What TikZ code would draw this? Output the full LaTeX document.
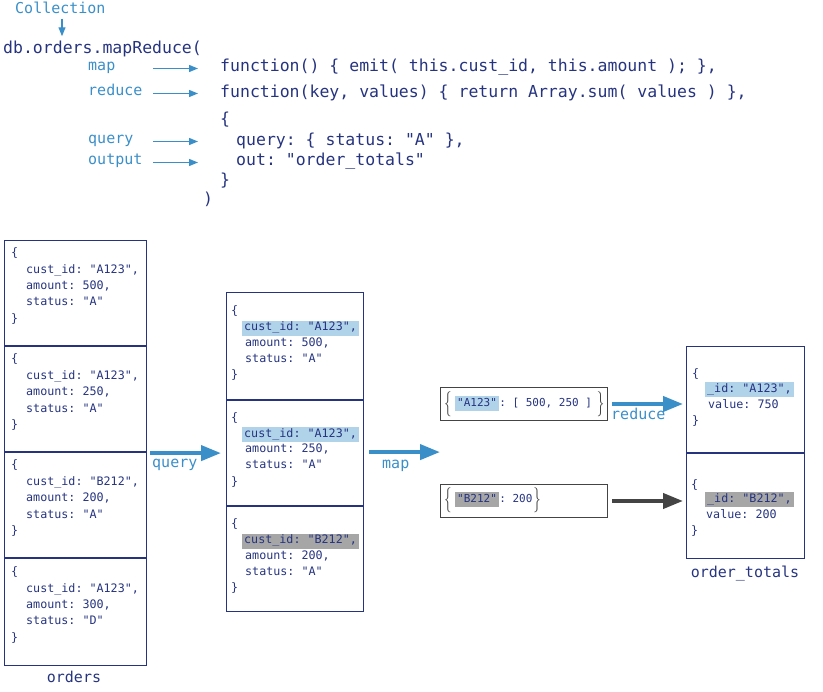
\documentclass[tikz,border=0pt]{standalone}
\usepackage{fontspec}
\setmonofont{DejaVu Sans Mono}
\newfontfamily\bracefont{lmroman10-regular}[Extension=.otf, FakeStretch=0.6]
\usetikzlibrary{arrows.meta}
\definecolor{navy}{RGB}{38,52,128}
\definecolor{lblue}{RGB}{59,143,201}
\definecolor{hlblue}{RGB}{176,211,234}
\definecolor{hlgray}{RGB}{166,166,166}
\definecolor{dgray}{RGB}{68,68,68}
\begin{document}
\begin{tikzpicture}[x=1pt,y=-1pt,
  code/.style={anchor=base west, inner sep=0, text=navy, font=\ttfamily\fontsize{16.5}{18}\selectfont},
  lbl/.style={anchor=base west, inner sep=0, text=lblue, font=\ttfamily\fontsize{15}{17}\selectfont, text height=0.75em, text depth=0.25em},
  small/.style={anchor=west, inner sep=0, text=navy, font=\ttfamily\fontsize{11.7}{13}\selectfont, text height=0.75em, text depth=0.25em},
  hl/.style={small, fill=hlblue, inner xsep=2pt, inner ysep=2.5pt},
  hg/.style={small, fill=hlgray, inner xsep=2pt, inner ysep=2.5pt},
  kfont/.style={font=\ttfamily\fontsize{11}{13}\selectfont},
  brace/.style={inner sep=0, text=dgray, font=\bracefont\fontsize{25}{27}\selectfont},
  coll/.style={draw=navy, line width=1.2pt, inner sep=0, anchor=north west},
  mbox/.style={draw=dgray, line width=1pt, inner sep=0, anchor=north west, minimum width=167pt, minimum height=33pt},
  divider/.style={navy, line width=1.2pt},
  bigarrow/.style={line width=4pt, lblue, -{Triangle[length=20pt,width=15pt]}},
  smallarrow/.style={line width=1.2pt, lblue, -{Triangle[length=9pt,width=7pt]}},
]
\useasboundingbox (0,0) rectangle (823,692);

% ---------- top code ----------
\node[lbl] (cl) at (15,14) {Collection};
\node[code] (db) at (3,54) {db.orders.mapReduce(};
\coordinate (ca) at (62,0);
\draw[smallarrow, shorten <=2pt, shorten >=5pt] (cl.south -| ca) -- (db.north -| ca);

\node[lbl] (lmap) at (88,71) {map};
\node[lbl] (lred) at (88,96) {reduce};
\node[lbl] (lqry) at (88,144) {query};
\node[lbl] (lout) at (88,165) {output};

\node[code] (f1) at (220,72) {function() \{ emit( this.cust\_id, this.amount ); \},};
\node[code] (f2) at (220,98) {function(key, values) \{ return Array.sum( values ) \},};
\node[code] (f3) at (220,125) {\{};
\node[code] (f4) at (236,146) {query: \{ status: "A" \},};
\node[code] (f5) at (236,166) {out: "order\_totals"};
\node[code] (f6) at (220,186) {\}};
\node[code] (f7) at (203,205) {)};

\coordinate (ls) at (153,0);
\coordinate (le) at (198,0);
\foreach \l in {lmap,lred,lqry,lout}
  \draw[smallarrow] (\l.east -| ls) -- (\l.east -| le);

% ---------- orders ----------
\node[coll, minimum width=142pt, minimum height=425pt] (o) at (4,240) {};
\foreach \yy in {346,452,558} \draw[divider] (4,\yy) -- (146,\yy);
\foreach \id/\amt/\st [count=\i from 0] in {A123/500/A, A123/250/A, B212/200/A, A123/300/D} {
  \pgfmathsetmacro\ty{240+106.25*\i}
  \node[small] (ob\i) at (11,\ty+14) {\{};
  \node[small] (oc\i) at (26,\ty+31) {cust\_id: "\id",};
  \node[small] (oa\i) at (26,\ty+47) {amount: \amt,};
  \node[small] (os\i) at (26,\ty+63.5) {status: "\st"};
  \node[small] (oe\i) at (11,\ty+80) {\}};
}
\node[lbl, text=navy, anchor=base] (olab) at (74,683) {orders};

% ---------- query result ----------
\node[coll, minimum width=137pt, minimum height=319pt] (m) at (226,292) {};
\foreach \yy in {400,506} \draw[divider] (226,\yy) -- (363,\yy);
\foreach \id/\amt/\hs [count=\i from 0] in {A123/500/hl, A123/250/hl, B212/200/hg} {
  \pgfmathsetmacro\ty{292+106.5*\i}
  \node[small] (mb\i) at (231,\ty+20.5) {\{};
  \node[\hs] (mc\i) at (242,\ty+36.5) {cust\_id: "\id",};
  \node[small] (ma\i) at (245,\ty+52) {amount: \amt,};
  \node[small] (ms\i) at (245,\ty+68) {status: "A"};
  \node[small] (me\i) at (231,\ty+84.5) {\}};
}

\draw[bigarrow, shorten <=3pt, shorten >=5pt] (o.east) -- (o.east -| m.west);
\node[lbl] (qlab) at (152,468) {query};

% ---------- map output ----------
\node[mbox] (k1) at (440,387) {};
\node[mbox] (k2) at (440,484) {};
\node[brace, anchor=west] (k1l) at (444,404) {\{};
\node[hl, kfont] (k1h) at (455,404) {"A123"};
\node[small, kfont] (k1t) at (k1h.east) {: [ 500, 250 ]};
\node[brace] (k1r) at (600.5,404) {\}};
\node[brace, anchor=west] (k2l) at (444,500) {\{};
\node[hg, kfont] (k2h) at (455,500) {"B212"};
\node[small, kfont] (k2t) at (k2h.east) {: 200};
\node[brace] (k2r) at (537,500) {\}};

\draw[bigarrow, shorten <=5pt] (m.east) -- (m.east -| k1.west);
\node[lbl] (mlab) at (382,469) {map};

% ---------- order_totals ----------
\node[coll, minimum width=118pt, minimum height=212pt] (t) at (686,346) {};
\draw[divider] (686,453) -- (804,453);
\node[small] (tb1) at (692,375) {\{};
\node[hl] (ti1) at (705,390) {\_id: "A123",};
\node[small] (tv1) at (708,406) {value: 750};
\node[small] (te1) at (692,422) {\}};
\node[small] (tb2) at (691,486) {\{};
\node[hg] (ti2) at (705,500) {\_id: "B212",};
\node[small] (tv2) at (706,516) {value: 200};
\node[small] (te2) at (691,532) {\}};
\node[lbl, text=navy, anchor=base] (tlab) at (745,578) {order\_totals};

\draw[bigarrow, shorten <=4pt, shorten >=3pt] (k1.east) -- (k1.east -| t.west);
\node[lbl] (rlab) at (611,420) {reduce};
\draw[bigarrow, dgray, shorten <=4pt, shorten >=3pt] (k2.east) -- (k2.east -| t.west);
\end{tikzpicture}
\end{document}
